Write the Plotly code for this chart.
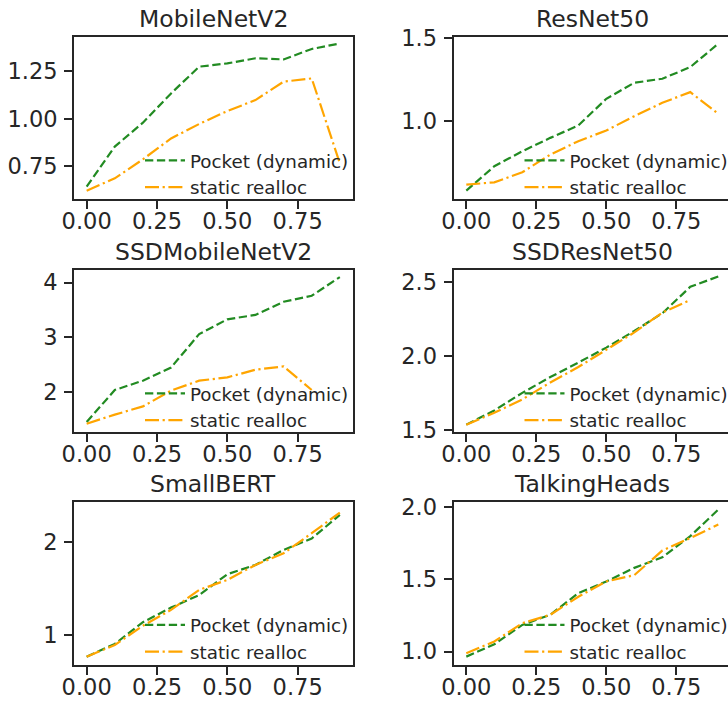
import plotly.graph_objects as go

# Fraction of memory reclaimed (x) for every model
ratios = [0.0, 0.1, 0.2, 0.3, 0.4, 0.5, 0.6, 0.7, 0.8, 0.9]

models = ["MobileNetV2", "ResNet50", "SSDMobileNetV2",
          "SSDResNet50", "SmallBERT", "TalkingHeads"]

# Pocket (dynamic)
mobilenet_pocket = [0.642, 0.853, 0.979, 1.133, 1.274, 1.291, 1.318, 1.312, 1.367, 1.396]
resnet_pocket = [0.584, 0.730, 0.820, 0.900, 0.974, 1.134, 1.230, 1.254, 1.324, 1.464]
ssdmobilenet_pocket = [1.455, 2.040, 2.210, 2.450, 3.060, 3.330, 3.410, 3.650, 3.760, 4.100]
ssdresnet_pocket = [1.534, 1.630, 1.750, 1.857, 1.955, 2.057, 2.170, 2.290, 2.470, 2.540]
smallbert_pocket = [0.766, 0.903, 1.137, 1.295, 1.430, 1.655, 1.755, 1.917, 2.040, 2.295]
talkingheads_pocket = [0.965, 1.050, 1.185, 1.255, 1.405, 1.486, 1.580, 1.653, 1.800, 1.984]

# static realloc
mobilenet_static = [0.621, 0.686, 0.786, 0.896, 0.972, 1.040, 1.098, 1.195, 1.212, 0.765]
resnet_static = [0.620, 0.634, 0.694, 0.800, 0.880, 0.944, 1.030, 1.110, 1.174, 1.044]
ssdmobilenet_static = [1.424, 1.590, 1.740, 2.030, 2.210, 2.270, 2.410, 2.470, 2.040]
ssdresnet_static = [1.534, 1.614, 1.705, 1.820, 1.925, 2.040, 2.160, 2.295, 2.380]
smallbert_static = [0.766, 0.892, 1.100, 1.270, 1.486, 1.594, 1.755, 1.880, 2.097, 2.320]
talkingheads_static = [0.988, 1.070, 1.197, 1.255, 1.380, 1.486, 1.530, 1.700, 1.787, 1.880]

pocket_series = [mobilenet_pocket, resnet_pocket, ssdmobilenet_pocket,
                 ssdresnet_pocket, smallbert_pocket, talkingheads_pocket]
static_series = [mobilenet_static, resnet_static, ssdmobilenet_static,
                 ssdresnet_static, smallbert_static, talkingheads_static]

x_tickvals = [0.0, 0.25, 0.5, 0.75]
x_ticktext = ["0.00", "0.25", "0.50", "0.75"]
y_tickvals = [[0.75, 1.0, 1.25], [1.0, 1.5], [2, 3, 4],
              [1.5, 2.0, 2.5], [1, 2], [1.0, 1.5, 2.0]]
y_ticktext = [["0.75", "1.00", "1.25"], ["1.0", "1.5"], ["2", "3", "4"],
              ["1.5", "2.0", "2.5"], ["1", "2"], ["1.0", "1.5", "2.0"]]
y_ranges = [[0.577, 1.430], [0.534, 1.504], [1.273, 4.23],
            [1.484, 2.584], [0.676, 2.439], [0.907, 2.04]]

W, H = 728, 702
INK = "#262626"
GREEN = "#228B22"
ORANGE = "#FFA500"
FONT = "DejaVu Sans"

# panel geometry in pixels
col_left = [74.0, 453.5]
col_right = [352.5, 728.0]
row_top = [37.0, 270.0, 501.5]
row_bottom = [199.0, 432.0, 665.0]
x_ranges = [[-0.045, 0.945], [-0.0457, 0.9346]]


def px(x):
    return x / W


def py(y):
    return 1 - y / H


fig = go.Figure()
layout = {}

for i, name in enumerate(models):
    r, c = divmod(i, 2)
    n = i + 1
    xa = "xaxis" if n == 1 else f"xaxis{n}"
    ya = "yaxis" if n == 1 else f"yaxis{n}"
    xr = "x" if n == 1 else f"x{n}"
    yr = "y" if n == 1 else f"y{n}"
    leg = "legend" if n == 1 else f"legend{n}"

    p = pocket_series[i]
    s = static_series[i]
    fig.add_trace(go.Scatter(
        x=ratios[:len(p)], y=p, mode="lines", name="Pocket (dynamic)",
        line=dict(color=GREEN, width=2.2, dash="8.3px,3.6px"),
        xaxis=xr, yaxis=yr, legend=leg, legendgroup=f"pocket{n}"))
    fig.add_trace(go.Scatter(
        x=ratios[:len(s)], y=s, mode="lines", name="static realloc",
        line=dict(color=ORANGE, width=2.2, dash="14px,3.6px,2.2px,3.6px"),
        xaxis=xr, yaxis=yr, legend=leg, legendgroup=f"static{n}"))

    axis_common = dict(
        showgrid=False, zeroline=False, showline=True, linecolor=INK,
        linewidth=1.9, ticks="outside", ticklen=8, tickwidth=1.9,
        tickcolor=INK, tickfont=dict(family=FONT, size=22.5, color=INK),
        automargin=False,
    )
    layout[xa] = dict(
        axis_common, domain=[px(col_left[c]), px(col_right[c])],
        range=x_ranges[c], tickvals=x_tickvals, ticktext=x_ticktext,
        anchor=yr, mirror=True, ticklabelstandoff=-7,
    )
    layout[ya] = dict(
        axis_common, domain=[py(row_bottom[r]), py(row_top[r])],
        range=y_ranges[i], tickvals=y_tickvals[i], ticktext=y_ticktext[i],
        anchor=xr, mirror=(c == 0), ticklabelstandoff=2,
    )
    layout[leg] = dict(
        x=px(col_left[c] + 66), y=py(row_top[r] + 105),
        xanchor="left", yanchor="top",
        bgcolor="rgba(0,0,0,0)", borderwidth=0,
        font=dict(family=FONT, size=18.3, color=INK),
        itemwidth=40, tracegroupgap=0, traceorder="grouped",
    )

annotations = []
for i, name in enumerate(models):
    r, c = divmod(i, 2)
    cx = (col_left[c] + (352.5 if c == 0 else 731.0)) / 2
    annotations.append(dict(
        text=name, x=px(cx), y=py(row_top[r]), xref="paper", yref="paper",
        xanchor="center", yanchor="bottom", showarrow=False, yshift=2,
        font=dict(family=FONT, size=23.5, color=INK),
    ))

fig.update_layout(
    width=W, height=H, margin=dict(l=0, r=0, t=0, b=0, autoexpand=False),
    paper_bgcolor="white", plot_bgcolor="white",
    annotations=annotations, showlegend=True,
    **layout,
)

fig.write_html("out.html")
